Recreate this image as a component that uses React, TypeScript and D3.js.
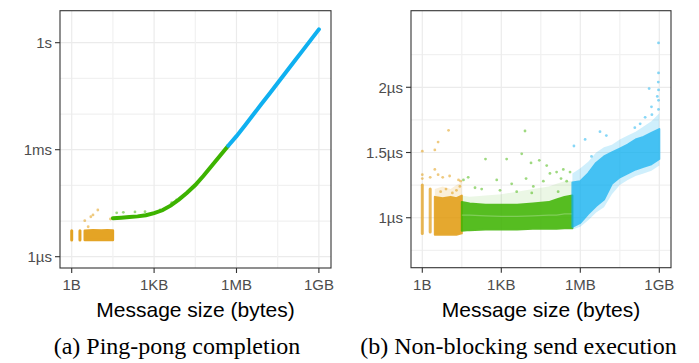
import * as d3 from 'd3';
import type { ReactNode } from 'react';

// shared x axis (message size, bytes)
const sizeTicks = [1, 1024, 1048576, 1073741824];
const sizeLabels = ['1B', '1KB', '1MB', '1GB'];
const sizeGrid = [1, 32, 1024, 32768, 1048576, 33554432, 1073741824];

// (a) ping-pong completion, seconds
const pingTicks = [1e-6, 1e-3, 1];
const pingLabels = ['1µs', '1ms', '1s'];
const pingGrid = [1e-6, 1e-5, 1e-4, 1e-3, 1e-2, 1e-1, 1];

const pingColSizes = [1, 2];
const pingColLo = [2.95e-6, 2.95e-6];
const pingColHi = [5.3e-6, 5.3e-6];
const pingBandSizes = [3, 6, 12, 20, 32];
const pingBandLo = [2.95e-6, 2.95e-6, 2.95e-6, 2.95e-6, 2.95e-6];
const pingBandHi = [5.3e-6, 5.5e-6, 5.4e-6, 5.5e-6, 5.4e-6];

const pingGreenSizes = [32, 64, 128, 256, 512, 1024, 2048, 4096, 8192, 16384, 32768, 65536, 131072, 262144, 524288];
const pingGreenTimes = [12.0e-6, 12.4e-6, 12.9e-6, 13.5e-6, 14.5e-6, 16.6e-6, 20e-6, 27e-6, 40e-6, 62e-6, 102e-6, 186e-6, 355e-6, 676e-6, 1.29e-3];
const pingBlueSizes = [524288, 1048576, 2097152, 4194304, 8388608, 16777216, 33554432, 67108864, 134217728, 268435456, 536870912, 1073741824];
const pingBlueTimes = [1.29e-3, 2.4e-3, 4.7e-3, 9.4e-3, 18.7e-3, 37e-3, 74e-3, 148e-3, 296e-3, 0.59, 1.18, 2.36];

const pingOrangeOutSizes = [9, 6, 3, 4, 26, 5];
const pingOrangeOutTimes = [20.4e-6, 14.8e-6, 10.2e-6, 6.9e-6, 11.4e-6, 13.2e-6];
const pingGreenOutSizes = [44, 77, 205, 477, 1700, 4500, 6800];
const pingGreenOutTimes = [17.0e-6, 17.5e-6, 18.0e-6, 18.2e-6, 20.4e-6, 33e-6, 38.9e-6];

// (b) non-blocking send execution, microseconds
const sendTicks = [1, 1.5, 2];
const sendLabels = ['1µs', '1.5µs', '2µs'];
const sendGrid = [0.75, 1, 1.25, 1.5, 1.75, 2, 2.25];

const sendColSizes = [1, 2];
const sendColLo = [0.88, 0.89];
const sendColHi = [1.25, 1.22];
const sendOrangeSizes = [3, 6, 12, 20, 32];
const sendOrangeLo = [0.87, 0.87, 0.87, 0.87, 0.88];
const sendOrangeHi = [1.16, 1.15, 1.16, 1.15, 1.17];
const sendOrangeFringeHi = [1.22, 1.24, 1.22, 1.25, 1.27];

const sendGreenSizes = [32, 64, 256, 1024, 4096, 16384, 65536, 131072, 262144, 524288];
const sendGreenLo = [0.9, 0.905, 0.91, 0.91, 0.91, 0.915, 0.915, 0.915, 0.92, 0.92];
const sendGreenHi = [1.12, 1.11, 1.1, 1.1, 1.1, 1.11, 1.12, 1.14, 1.16, 1.17];
const sendGreenFringeHi = [1.17, 1.16, 1.17, 1.18, 1.2, 1.22, 1.24, 1.26, 1.28, 1.28];
const sendGreenStripe = [1.02, 1.02, 1.015, 1.01, 1.01, 1.015, 1.02, 1.02, 1.03, 1.03];

const sendBlueSizes = [524288, 1048576, 2097152, 4194304, 8388608, 16777216, 33554432, 67108864, 134217728, 268435456, 536870912, 1073741824];
const sendBlueLo = [0.93, 0.96, 1.03, 1.09, 1.14, 1.26, 1.31, 1.34, 1.37, 1.39, 1.41, 1.45];
const sendBlueHi = [1.27, 1.28, 1.34, 1.42, 1.47, 1.5, 1.53, 1.56, 1.6, 1.62, 1.65, 1.68];
const sendBlueFringeLo = [0.91, 0.93, 0.98, 1.04, 1.08, 1.18, 1.25, 1.29, 1.32, 1.34, 1.36, 1.4];
const sendBlueFringeHi = [1.34, 1.38, 1.43, 1.5, 1.54, 1.56, 1.6, 1.63, 1.66, 1.7, 1.74, 1.8];

const sendOrangeOutSizes = [1, 3, 4, 10, 3, 4, 6, 11, 2, 24, 29, 1, 1, 5, 8, 14, 20, 27];
const sendOrangeOutVals = [1.51, 1.52, 1.58, 1.67, 1.37, 1.33, 1.31, 1.32, 1.31, 1.29, 1.28, 1.33, 1.3, 1.2, 1.22, 1.19, 1.21, 1.24];
const sendGreenOutSizes = [8192, 6144, 256, 1640, 28700, 13900, 55000, 685, 9000, 73000, 131000, 236000, 193000, 318000, 56, 37, 102, 183, 914, 2550, 3950, 17000, 41000, 425000, 150000, 14800];
const sendGreenOutVals = [1.665, 1.49, 1.45, 1.45, 1.44, 1.42, 1.4, 1.29, 1.3, 1.34, 1.35, 1.37, 1.3, 1.28, 1.31, 1.29, 1.23, 1.22, 1.21, 1.26, 1.2, 1.24, 1.28, 1.35, 1.2, 1.19];
const sendBlueOutSizes = [600000, 1600000, 5900000, 10300000, 125000000, 2800000, 1000000000, 1000000000, 980000000, 440000000, 1000000000, 900000000, 1000000000, 540000000, 1000000000, 560000000, 310000000, 200000000];
const sendBlueOutVals = [1.55, 1.6, 1.66, 1.63, 1.69, 1.47, 2.34, 2.11, 2.04, 1.99, 1.98, 1.93, 1.9, 1.85, 1.83, 1.79, 1.77, 1.72];

const ORANGE = '#E09500';
const GREEN = '#3DB300';
const BLUE = '#0FB0F0';
const SANS = '"Liberation Sans", Arial, Helvetica, sans-serif';
const SERIF = '"Liberation Serif", "Times New Roman", serif';

type Scale = (v: number) => number;

interface PanelProps {
	x: d3.ScaleLogarithmic<number, number>;
	y: d3.ScaleContinuousNumeric<number, number>;
	yGrid: number[];
	yTicks: number[];
	yLabels: string[];
	caption: string;
	captionX: number;
	children: ReactNode;
}

const Panel = ({ x, y, yGrid, yTicks, yLabels, caption, captionX, children }: PanelProps) => {
	const [x0, x1] = x.range();
	const [yb, yt] = y.range();
	const cx = (x0 + x1) / 2;
	return (
		<g>
			{yGrid.map((v) => (
				<line key={'gy' + v} x1={x0} x2={x1} y1={y(v)} y2={y(v)} stroke={yTicks.includes(v) ? '#ebebeb' : '#f1f1f1'} strokeWidth={1.2} />
			))}
			{sizeGrid.map((v) => (
				<line key={'gx' + v} x1={x(v)} x2={x(v)} y1={yt} y2={yb} stroke={sizeTicks.includes(v) ? '#ebebeb' : '#f1f1f1'} strokeWidth={1.2} />
			))}
			{children}
			<rect x={x0} y={yt} width={x1 - x0} height={yb - yt} fill="none" stroke="#333333" strokeWidth={1.1} />
			{yTicks.map((v, i) => (
				<g key={'ty' + v}>
					<line x1={x0 - 5} x2={x0} y1={y(v)} y2={y(v)} stroke="#333333" strokeWidth={1.1} />
					<text x={x0 - 8} y={y(v)} dy="0.36em" textAnchor="end" style={{ fontFamily: SANS }} fontSize={15} fill="#4d4d4d">
						{yLabels[i]}
					</text>
				</g>
			))}
			{sizeTicks.map((v, i) => (
				<g key={'tx' + v}>
					<line x1={x(v)} x2={x(v)} y1={yb} y2={yb + 5} stroke="#333333" strokeWidth={1.1} />
					<text x={x(v)} y={289.5} textAnchor="middle" style={{ fontFamily: SANS }} fontSize={15} fill="#4d4d4d">
						{sizeLabels[i]}
					</text>
				</g>
			))}
			<text x={cx} y={317} textAnchor="middle" style={{ fontFamily: SANS }} fontSize={21} fill="#000">
				Message size (bytes)
			</text>
			<text x={captionX} y={354} textAnchor="middle" style={{ fontFamily: SERIF }} fontSize={24} fill="#000">
				{caption}
			</text>
		</g>
	);
};

const band = (x: Scale, y: Scale, sizes: number[], lo: number[], hi: number[]) =>
	d3
		.area<number>()
		.x((s) => x(s))
		.y0((_, i) => y(lo[i]))
		.y1((_, i) => y(hi[i]))(sizes) || '';

const trace = (x: Scale, y: Scale, sizes: number[], vals: number[]) =>
	d3
		.line<number>()
		.x((s) => x(s))
		.y((_, i) => y(vals[i]))(sizes) || '';

const Columns = ({ x, y, sizes, lo, hi, color, opacity }: { x: Scale; y: Scale; sizes: number[]; lo: number[]; hi: number[]; color: string; opacity: number }) => (
	<g>
		{sizes.map((s, i) => (
			<line key={s} x1={x(s)} x2={x(s)} y1={y(lo[i])} y2={y(hi[i])} stroke={color} strokeWidth={3} strokeLinecap="round" opacity={opacity} />
		))}
	</g>
);

const Dots = ({ x, y, sizes, vals, color }: { x: Scale; y: Scale; sizes: number[]; vals: number[]; color: string }) => (
	<g>
		{sizes.map((s, i) => (
			<circle key={i} cx={x(s)} cy={y(vals[i])} r={1.4} fill={color} opacity={0.5} />
		))}
	</g>
);

export default function App() {
	// panel (a)
	const xa = d3.scaleLog().base(2).domain([2 ** -1.42, 2 ** 31.47]).range([60, 331]);
	const ya = d3.scaleLog().domain([10 ** -6.317, 10 ** 0.897]).range([268, 10.7]);

	// panel (b)
	const xb = d3.scaleLog().base(2).domain([2 ** -1.43, 2 ** 31.48]).range([411, 671]);
	const yb = d3.scaleLinear().domain([0.617, 2.587]).range([267.7, 10.7]);

	return (
		<svg width={699} height={363} style={{ position: 'absolute', left: 0, top: 0, background: '#fff' }}>
			<Panel x={xa} y={ya} yGrid={pingGrid} yTicks={pingTicks} yLabels={pingLabels} caption="(a) Ping-pong completion" captionX={177}>
				<Columns x={xa} y={ya} sizes={pingColSizes} lo={pingColLo} hi={pingColHi} color={ORANGE} opacity={0.85} />
				<path d={band(xa, ya, pingBandSizes, pingBandLo, pingBandHi)} fill={ORANGE} stroke={ORANGE} strokeWidth={2.5} strokeLinejoin="round" opacity={0.85} />
				<Dots x={xa} y={ya} sizes={pingOrangeOutSizes} vals={pingOrangeOutTimes} color={ORANGE} />
				<Dots x={xa} y={ya} sizes={pingGreenOutSizes} vals={pingGreenOutTimes} color={GREEN} />
				<path d={trace(xa, ya, pingGreenSizes, pingGreenTimes)} fill="none" stroke={GREEN} strokeWidth={4} strokeLinecap="round" />
				<path d={trace(xa, ya, pingBlueSizes, pingBlueTimes)} fill="none" stroke={BLUE} strokeWidth={4} strokeLinecap="round" />
			</Panel>
			<Panel x={xb} y={yb} yGrid={sendGrid} yTicks={sendTicks} yLabels={sendLabels} caption="(b) Non-blocking send execution" captionX={518.5}>
				<Columns x={xb} y={yb} sizes={sendColSizes} lo={sendColLo} hi={sendColHi} color={ORANGE} opacity={0.65} />
				<path d={band(xb, yb, sendOrangeSizes, sendOrangeLo, sendOrangeFringeHi)} fill={ORANGE} opacity={0.15} />
				<path d={band(xb, yb, sendOrangeSizes, sendOrangeLo, sendOrangeHi)} fill={ORANGE} stroke={ORANGE} strokeWidth={2} strokeLinejoin="round" opacity={0.78} />
				<Dots x={xb} y={yb} sizes={sendOrangeOutSizes} vals={sendOrangeOutVals} color={ORANGE} />
				<path d={band(xb, yb, sendGreenSizes, sendGreenLo, sendGreenFringeHi)} fill={GREEN} opacity={0.1} />
				<path d={band(xb, yb, sendGreenSizes, sendGreenLo, sendGreenHi)} fill={GREEN} stroke={GREEN} strokeWidth={2} strokeLinejoin="round" opacity={0.85} />
				<path d={trace(xb, yb, sendGreenSizes, sendGreenStripe)} fill="none" stroke="#ffffff" strokeWidth={1.3} opacity={0.25} />
				<Dots x={xb} y={yb} sizes={sendGreenOutSizes} vals={sendGreenOutVals} color={GREEN} />
				<path d={band(xb, yb, sendBlueSizes, sendBlueFringeLo, sendBlueFringeHi)} fill={BLUE} opacity={0.2} />
				<path d={band(xb, yb, sendBlueSizes, sendBlueLo, sendBlueHi)} fill={BLUE} stroke={BLUE} strokeWidth={2} strokeLinejoin="round" opacity={0.72} />
				<Dots x={xb} y={yb} sizes={sendBlueOutSizes} vals={sendBlueOutVals} color={BLUE} />
			</Panel>
		</svg>
	);
}
